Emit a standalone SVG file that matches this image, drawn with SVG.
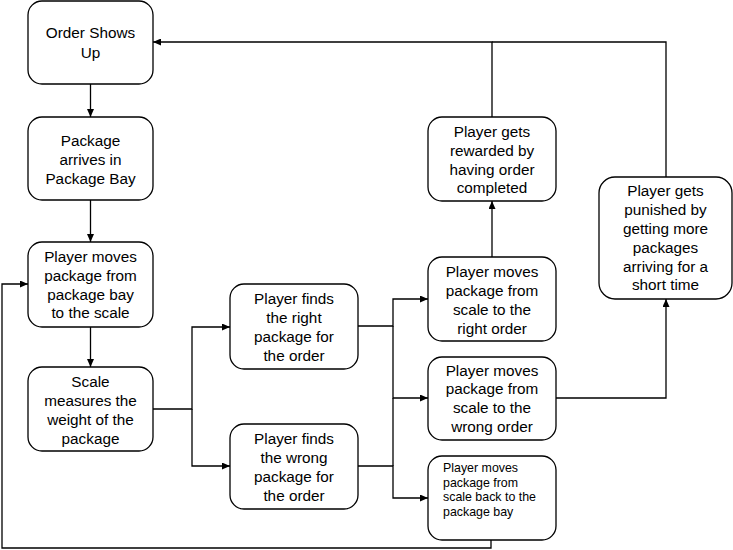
<svg xmlns="http://www.w3.org/2000/svg" width="733" height="550" viewBox="0 0 733 550">
<style>
.box{fill:#fff;stroke:#000;stroke-width:1.3}
.t{font-family:"Liberation Sans",Arial,sans-serif;font-size:15.3px;fill:#000;text-anchor:middle}
.s{font-family:"Liberation Sans",Arial,sans-serif;font-size:12.4px;fill:#000}
.c{fill:none;stroke:#000;stroke-width:1.3}
.a{marker-end:url(#arr)}
</style>
<defs>
<marker id="arr" markerUnits="userSpaceOnUse" markerWidth="8" markerHeight="7" refX="8" refY="3.5" orient="auto">
<path d="M0,0 L8,3.5 L0,7 z" fill="#000"/>
</marker>
</defs>
<rect width="733" height="550" fill="#fff"/>
<g id="connectors">
<path class="c a" d="M90.5,84 V117"/>
<path class="c a" d="M90.5,200 V242"/>
<path class="c a" d="M90.5,327 V367"/>
<path class="c a" d="M153,409 H192 V327 H230"/>
<path class="c a" d="M192,409 V466 H230"/>
<path class="c a" d="M358,326 H393 V299 H428"/>
<path class="c a" d="M393,326 V398 H428"/>
<path class="c a" d="M358,466 H393 V498 H428"/>
<path class="c" d="M393,466 V398"/>
<path class="c a" d="M492,257 V201"/>
<path class="c a" d="M556,398 H666 V299"/>
<path class="c a" d="M492,117 V42 H153"/>
<path class="c" d="M666,177 V42 H492"/>
<path class="c a" d="M491,540 V548 H2 V284 H28"/>
</g>
<g id="n1">
<rect class="box" x="28" y="1" width="125" height="83" rx="14"/>
<text class="t" x="90.5" y="38">Order Shows</text>
<text class="t" x="90.5" y="58">Up</text>
</g>
<g id="n2">
<rect class="box" x="28" y="117" width="125" height="83" rx="14"/>
<text class="t" x="90.5" y="146">Package</text>
<text class="t" x="90.5" y="165">arrives in</text>
<text class="t" x="90.5" y="184">Package Bay</text>
</g>
<g id="n3">
<rect class="box" x="28" y="242" width="125" height="85" rx="14"/>
<text class="t" x="90.5" y="262">Player moves</text>
<text class="t" x="90.5" y="281">package from</text>
<text class="t" x="90.5" y="300">package bay</text>
<text class="t" x="90.5" y="318">to the scale</text>
</g>
<g id="n4">
<rect class="box" x="28" y="367" width="125" height="84" rx="14"/>
<text class="t" x="90.5" y="387">Scale</text>
<text class="t" x="90.5" y="406">measures the</text>
<text class="t" x="90.5" y="425">weight of the</text>
<text class="t" x="90.5" y="444">package</text>
</g>
<g id="n5">
<rect class="box" x="230" y="284" width="128" height="85" rx="14"/>
<text class="t" x="294" y="304">Player finds</text>
<text class="t" x="294" y="323">the right</text>
<text class="t" x="294" y="342">package for</text>
<text class="t" x="294" y="361">the order</text>
</g>
<g id="n6">
<rect class="box" x="230" y="424" width="128" height="85" rx="14"/>
<text class="t" x="294" y="444">Player finds</text>
<text class="t" x="294" y="463">the wrong</text>
<text class="t" x="294" y="482">package for</text>
<text class="t" x="294" y="501">the order</text>
</g>
<g id="n7">
<rect class="box" x="428" y="257" width="128" height="84" rx="14"/>
<text class="t" x="492" y="277">Player moves</text>
<text class="t" x="492" y="296">package from</text>
<text class="t" x="492" y="315">scale to the</text>
<text class="t" x="492" y="334">right order</text>
</g>
<g id="n8">
<rect class="box" x="428" y="117" width="128" height="84" rx="14"/>
<text class="t" x="492" y="137">Player gets</text>
<text class="t" x="492" y="156">rewarded by</text>
<text class="t" x="492" y="175">having order</text>
<text class="t" x="492" y="193">completed</text>
</g>
<g id="n9">
<rect class="box" x="428" y="357" width="128" height="83" rx="14"/>
<text class="t" x="492" y="376">Player moves</text>
<text class="t" x="492" y="394">package from</text>
<text class="t" x="492" y="413">scale to the</text>
<text class="t" x="492" y="432">wrong order</text>
</g>
<g id="n10">
<rect class="box" x="599" y="177" width="133" height="122" rx="16"/>
<text class="t" x="665.5" y="196">Player gets</text>
<text class="t" x="665.5" y="215">punished by</text>
<text class="t" x="665.5" y="234">getting more</text>
<text class="t" x="665.5" y="253">packages</text>
<text class="t" x="665.5" y="272">arriving for a</text>
<text class="t" x="665.5" y="290">short time</text>
</g>
<g id="n11">
<rect class="box" x="428" y="456" width="128" height="84" rx="14"/>
<text class="s" x="443" y="472">Player moves</text>
<text class="s" x="443" y="486.5">package from</text>
<text class="s" x="443" y="501">scale back to the</text>
<text class="s" x="443" y="515.5">package bay</text>
</g>
</svg>
